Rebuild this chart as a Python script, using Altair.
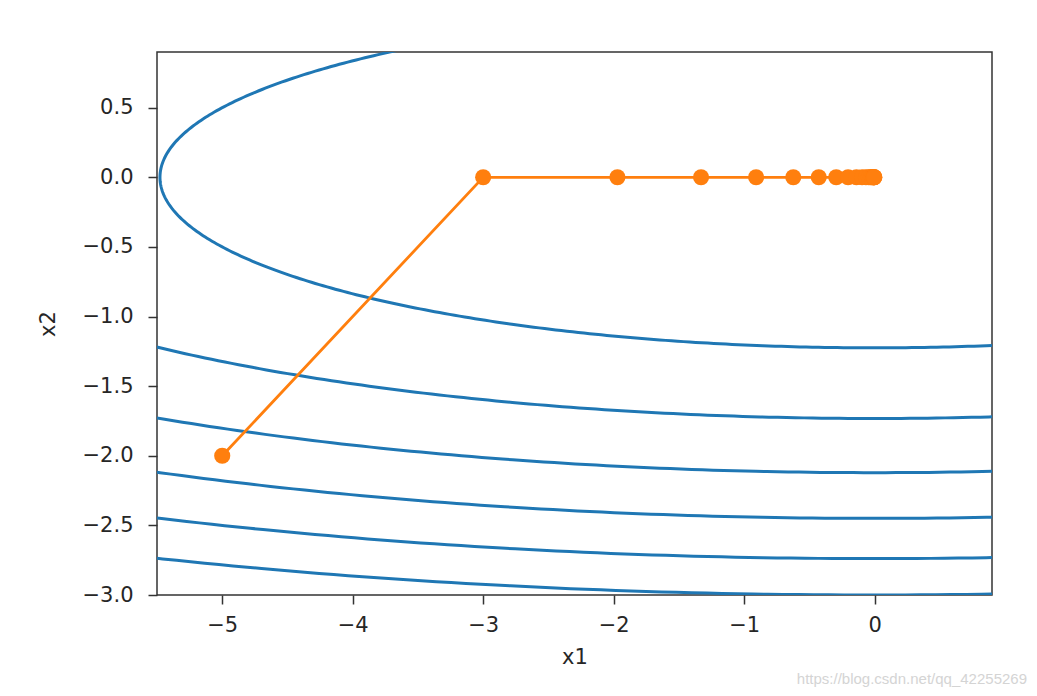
import altair as alt
import numpy as np
import pandas as pd

# contour levels of f(x1, x2) = 0.1*x1^2 + 2*x2^2
levels = [3, 6, 9, 12, 15, 18]
coef_x1 = 0.1
coef_x2 = 2.0

# optimisation trajectory (orange)
traj_x1 = [-5.0, -3.0, -1.971, -1.33, -0.908, -0.623, -0.428, -0.294, -0.203, -0.139,
           -0.096, -0.066, -0.045, -0.031, -0.022, -0.015, -0.010, -0.007, -0.005, -0.003, -0.002]
traj_x2 = [-2.0, 0.0, 0.0, 0.0, 0.0, 0.0, 0.0, 0.0, 0.0, 0.0,
           0.0, 0.0, 0.0, 0.0, 0.0, 0.0, 0.0, 0.0, 0.0, 0.0, 0.0]

x_ticks = [-5, -4, -3, -2, -1, 0]
y_ticks = [-3.0, -2.5, -2.0, -1.5, -1.0, -0.5, 0.0, 0.5]
x_domain = [-5.5, 0.9]
y_domain = [-3.0, 0.9]

rows = []
t = np.linspace(0, 2 * np.pi, 721)
for lv in levels:
    a = np.sqrt(lv / coef_x1)
    b = np.sqrt(lv / coef_x2)
    for i, tt in enumerate(t):
        rows.append({"level": lv, "i": i, "x1": a * np.cos(tt), "x2": b * np.sin(tt)})
contours = pd.DataFrame(rows)

traj = pd.DataFrame({"x1": traj_x1, "x2": traj_x2, "i": list(range(len(traj_x1)))})

FONT = "DejaVu Sans"
xs = alt.Scale(domain=x_domain, nice=False, zero=False)
ys = alt.Scale(domain=y_domain, nice=False, zero=False)

xaxis = alt.Axis(values=x_ticks, format="d", title="x1", grid=False, tickSize=9,
                 labelPadding=10, titlePadding=11, domain=False)
yaxis = alt.Axis(values=y_ticks, format=".1f", title="x2", grid=False, tickSize=9,
                 labelPadding=15, titlePadding=24, domain=False)

contour_layer = alt.Chart(contours).mark_line(color="#1f77b4", strokeWidth=3, clip=True).encode(
    x=alt.X("x1:Q", scale=xs, axis=xaxis),
    y=alt.Y("x2:Q", scale=ys, axis=yaxis),
    detail="level:N",
    order="i:Q",
)

traj_line = alt.Chart(traj).mark_line(color="#ff7f0e", strokeWidth=2.8, clip=True).encode(
    x=alt.X("x1:Q", scale=xs),
    y=alt.Y("x2:Q", scale=ys),
    order="i:Q",
)

traj_pts = alt.Chart(traj).mark_circle(color="#ff7f0e", size=260, opacity=1, clip=True).encode(
    x=alt.X("x1:Q", scale=xs),
    y=alt.Y("x2:Q", scale=ys),
)

watermark = alt.Chart(pd.DataFrame({"t": ["https://blog.csdn.net/qq_42255269"]})).mark_text(
    align="right", baseline="alphabetic", font="Liberation Sans", fontSize=15, color="#d4d4d4"
).encode(x=alt.value(870), y=alt.value(632), text="t:N")

chart = alt.layer(contour_layer, traj_line, traj_pts, watermark).properties(
    width=835, height=543,
    autosize=alt.AutoSizeParams(type="none"),
    padding={"left": 149, "top": 44, "right": 37, "bottom": 93},
).configure_view(stroke="#333333", strokeWidth=1.5).configure_axis(
    labelFont=FONT, titleFont=FONT, labelFontSize=21, titleFontSize=21,
    labelColor="#262626", titleColor="#262626", tickColor="#333333", tickWidth=1.5,
    titleFontWeight="normal",
)

chart.save("out.html", embed_options={"renderer": "svg", "actions": False})
